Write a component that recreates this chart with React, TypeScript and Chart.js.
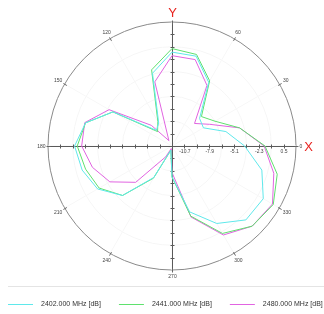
import React, { useEffect, useRef } from "react";
import { Chart, registerables } from "chart.js";

Chart.register(...registerables);

// Angles in degrees (0° = X axis, counter-clockwise)
const ANGLES = [0, 15, 30, 45, 60, 75, 90, 105, 120, 135, 150, 165, 180, 195, 210, 225, 240, 255, 270, 285, 300, 315, 330, 345];

const SERIES_NAMES = ["2402.000 MHz [dB]", "2441.000 MHz [dB]", "2480.000 MHz [dB]"];

const GAIN_2402 = [-3.9, -5.8, -8.0, -7.7, -3.8, -1.6, -1.5, -3.6, -9.1, -9.6, -4.4, -2.0, -1.1, -1.6, -2.4, -4.2, -8.0, -11.6, -8.6, -4.4, -2.0, -0.3, -0.2, -1.6];
const GAIN_2441 = [-1.6, -4.2, -6.5, -7.4, -3.6, -1.4, -1.1, -3.2, -8.9, -9.8, -4.4, -2.0, -1.4, -2.0, -2.6, -4.2, -7.9, -11.6, -8.6, -3.9, -0.7, 0.7, 1.1, 0.2];
const GAIN_2480 = [-1.7, -4.2, -7.2, -8.5, -4.2, -2.0, -1.9, -4.6, -11.4, -8.8, -3.9, -1.9, -1.9, -2.8, -4.0, -6.3, -10.7, -11.8, -9.1, -3.8, -0.5, 0.7, 1.0, -0.2];

const SERIES_COLORS = ["rgb(95,232,235)", "rgb(95,225,110)", "rgb(225,100,225)"];

// Radial scale ticks (dB)
const TICK_VALUES = [-12.1, -10.7, -9.3, -7.9, -6.5, -5.1, -3.7, -2.3, -0.9, 0.5, 1.9];
const LABELED_TICKS = [-10.7, -7.9, -5.1, -2.3, 0.5];

// Angle labels on the outer circle
const ANGLE_LABELS = [0, 30, 60, 120, 150, 180, 210, 240, 270, 300, 330];
const ANGLE_TICKS = [0, 30, 60, 90, 120, 150, 180, 210, 240, 270, 300, 330];

// Chart.js radar goes clockwise; reorder so that angles go counter-clockwise from the X axis
const toChartOrder = (arr: any[]) => arr.map((_, i) => arr[(arr.length - i) % arr.length]);

const polarOverlay = {
  id: "polarOverlay",
  beforeDatasetsDraw(chart: any) {
    const s = chart.scales.r;
    const ctx = chart.ctx;
    const cx = Math.round(s.xCenter) + 0.5;
    const cy = Math.round(s.yCenter) + 0.5;
    const R = s.getDistanceFromCenterForValue(s.max);
    ctx.save();
    ctx.strokeStyle = "#5a5a5a";
    ctx.lineWidth = 1;
    // axes
    ctx.beginPath();
    ctx.moveTo(cx - R, cy);
    ctx.lineTo(cx + R, cy);
    ctx.moveTo(cx, cy - R);
    ctx.lineTo(cx, cy + R);
    ctx.stroke();
    // axis ticks
    ctx.beginPath();
    TICK_VALUES.forEach((v) => {
      const d = Math.round(s.getDistanceFromCenterForValue(v));
      if (d <= 0 || d >= R - 1) return;
      ctx.moveTo(cx + d, cy - 2);
      ctx.lineTo(cx + d, cy + 2);
      ctx.moveTo(cx - d, cy - 2);
      ctx.lineTo(cx - d, cy + 2);
      ctx.moveTo(cx - 2, cy - d);
      ctx.lineTo(cx + 2, cy - d);
      ctx.moveTo(cx - 2, cy + d);
      ctx.lineTo(cx + 2, cy + d);
    });
    ctx.stroke();
    // outer circle ticks
    ctx.strokeStyle = "#666";
    ctx.beginPath();
    ANGLE_TICKS.forEach((a) => {
      const r = (a * Math.PI) / 180;
      ctx.moveTo(cx + Math.cos(r) * (R - 2), cy - Math.sin(r) * (R - 2));
      ctx.lineTo(cx + Math.cos(r) * (R + 2), cy - Math.sin(r) * (R + 2));
    });
    ctx.stroke();
    // tick labels
    ctx.fillStyle = "#444";
    ctx.font = "5px Arial, 'Liberation Sans', sans-serif";
    ctx.textAlign = "center";
    ctx.textBaseline = "top";
    LABELED_TICKS.forEach((v) => {
      const d = s.getDistanceFromCenterForValue(v);
      ctx.fillText(v.toFixed(1), cx + d, cy + 2.5);
    });
    // angle labels
    ctx.textBaseline = "middle";
    ANGLE_LABELS.forEach((a) => {
      const t = String(a);
      const w = ctx.measureText(t).width;
      const r = (a * Math.PI) / 180;
      const off = R + 3 + (w / 2) * Math.abs(Math.cos(r)) + 3 * Math.abs(Math.sin(r));
      ctx.fillText(t, cx + Math.cos(r) * off, cy - Math.sin(r) * off);
    });
    // axis names
    ctx.fillStyle = "#e8231f";
    ctx.font = "13px Arial, 'Liberation Sans', sans-serif";
    ctx.fillText("Y", cx, cy - R - 9);
    ctx.fillText("X", cx + R + 12, cy + 0.5);
    ctx.restore();
  },
  afterDraw(chart: any) {
    const ctx = chart.ctx;
    const W = chart.width;
    ctx.save();
    ctx.strokeStyle = "#e4e4e4";
    ctx.lineWidth = 1;
    ctx.beginPath();
    ctx.moveTo(8, 286.5);
    ctx.lineTo(W, 286.5);
    ctx.stroke();
    ctx.font = "7px Arial, 'Liberation Sans', sans-serif";
    ctx.textAlign = "left";
    ctx.textBaseline = "middle";
    let x = 8;
    const y = 304;
    chart.data.datasets.forEach((ds: any) => {
      ctx.strokeStyle = ds.borderColor;
      ctx.beginPath();
      ctx.moveTo(x, y + 0.5);
      ctx.lineTo(x + 25, y + 0.5);
      ctx.stroke();
      ctx.fillStyle = "#333";
      ctx.fillText(ds.label, x + 33, y);
      x += 33 + ctx.measureText(ds.label).width + 18;
    });
    ctx.restore();
  },
};

export default function App() {
  const ref = useRef<HTMLCanvasElement | null>(null);
  useEffect(() => {
    if (!ref.current) return;
    const seriesValues = [GAIN_2402, GAIN_2441, GAIN_2480];
    const chart = new Chart(ref.current, {
      type: "radar",
      data: {
        labels: toChartOrder(ANGLES).map(String),
        datasets: seriesValues.map((vals, i) => ({
          label: SERIES_NAMES[i],
          data: toChartOrder(vals),
          borderColor: SERIES_COLORS[i],
          backgroundColor: "transparent",
          borderWidth: 1,
          pointRadius: 0,
          pointHoverRadius: 0,
          fill: false,
          tension: 0,
        })),
      },
      options: {
        responsive: false,
        animation: false,
        layout: { padding: { left: 48, right: 28, top: 22, bottom: 44 } },
        plugins: { legend: { display: false }, tooltip: { enabled: false } },
        scales: {
          r: {
            min: TICK_VALUES[0],
            max: TICK_VALUES[TICK_VALUES.length - 1],
            startAngle: 90,
            afterBuildTicks: (scale: any) => {
              scale.ticks = TICK_VALUES.map((v) => ({ value: v }));
            },
            ticks: { display: false },
            pointLabels: { display: false },
            grid: {
              circular: true,
              lineWidth: 1,
              color: (c: any) =>
                c.index === TICK_VALUES.length - 1 ? "#8a8a8a" : c.index % 2 === 0 && c.index > 0 ? "#f6f6f6" : "transparent",
            },
            angleLines: {
              display: true,
              lineWidth: 1,
              color: (c: any) => (c.index % 2 === 0 ? "#f7f7f7" : "transparent"),
            },
          },
        },
      },
      plugins: [polarOverlay],
    });
    return () => chart.destroy();
  }, []);
  return (
    <div style={{ position: "fixed", left: 0, top: 0, width: 324, height: 314, background: "#fff" }}>
      <canvas ref={ref} width={324} height={314} style={{ display: "block" }} />
    </div>
  );
}
